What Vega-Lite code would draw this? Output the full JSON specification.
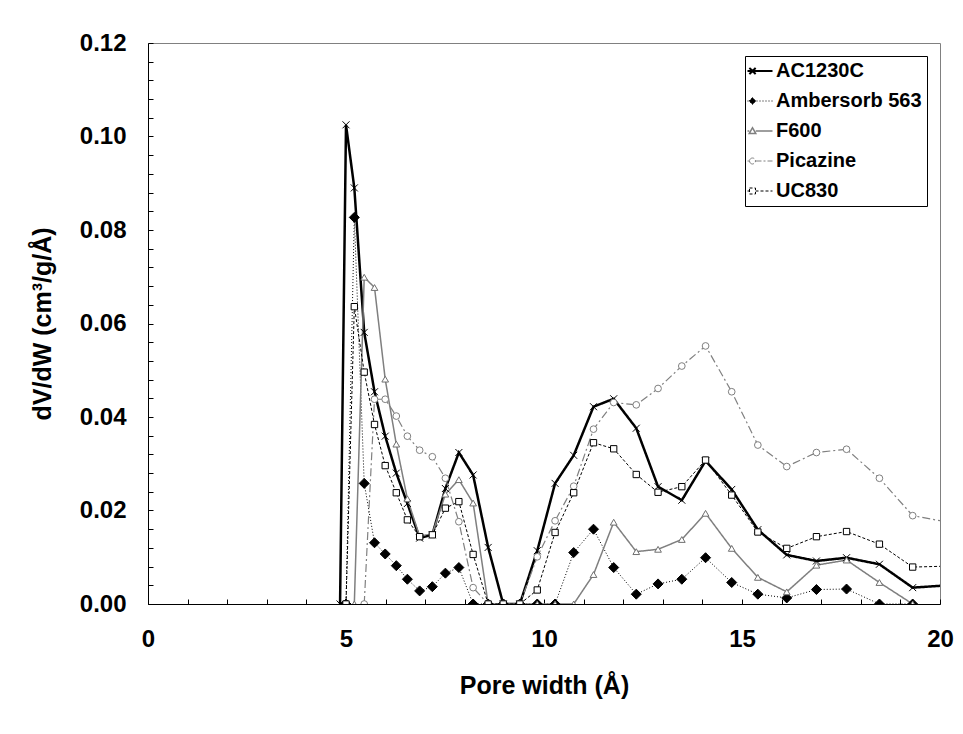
{
  "$schema": "https://vega.github.io/schema/vega-lite/v6.json",
  "width": 792,
  "height": 561,
  "autosize": {"type": "none"},
  "padding": {"left": 148, "top": 43, "right": 23, "bottom": 130},
  "background": "white",
  "config": {
    "font": "Liberation Sans",
    "view": {"stroke": "#808080", "strokeWidth": 1},
    "axis": {
      "grid": false,
      "domainColor": "#000000",
      "domainWidth": 1,
      "tickColor": "#000000",
      "tickSize": -5,
      "labelColor": "#000000",
      "labelFont": "Liberation Sans",
      "labelFontSize": 24,
      "labelFontWeight": "bold",
      "labelOverlap": false,
      "labelFlush": false,
      "titleColor": "#000000",
      "titleFont": "Liberation Sans",
      "titleFontSize": 25,
      "titleFontWeight": "bold"
    }
  },
  "data": {
    "values": [
      {"series": "AC1230C", "w": 4.85, "v": 0},
      {"series": "AC1230C", "w": 5.0, "v": 0.1025},
      {"series": "AC1230C", "w": 5.21, "v": 0.089},
      {"series": "AC1230C", "w": 5.46, "v": 0.0581},
      {"series": "AC1230C", "w": 5.72, "v": 0.0454},
      {"series": "AC1230C", "w": 5.99, "v": 0.0359},
      {"series": "AC1230C", "w": 6.27, "v": 0.028},
      {"series": "AC1230C", "w": 6.55, "v": 0.0215},
      {"series": "AC1230C", "w": 6.86, "v": 0.0141},
      {"series": "AC1230C", "w": 7.18, "v": 0.0148},
      {"series": "AC1230C", "w": 7.51, "v": 0.0247},
      {"series": "AC1230C", "w": 7.85, "v": 0.0324},
      {"series": "AC1230C", "w": 8.21, "v": 0.0276},
      {"series": "AC1230C", "w": 8.59, "v": 0.0121},
      {"series": "AC1230C", "w": 8.97, "v": 0},
      {"series": "AC1230C", "w": 9.39, "v": 0},
      {"series": "AC1230C", "w": 9.83, "v": 0.0114},
      {"series": "AC1230C", "w": 10.28, "v": 0.0258},
      {"series": "AC1230C", "w": 10.75, "v": 0.0318},
      {"series": "AC1230C", "w": 11.25, "v": 0.0422},
      {"series": "AC1230C", "w": 11.76, "v": 0.0439},
      {"series": "AC1230C", "w": 12.33, "v": 0.0376},
      {"series": "AC1230C", "w": 12.88, "v": 0.0251},
      {"series": "AC1230C", "w": 13.48, "v": 0.0222},
      {"series": "AC1230C", "w": 14.08, "v": 0.0306},
      {"series": "AC1230C", "w": 14.74, "v": 0.0245},
      {"series": "AC1230C", "w": 15.4, "v": 0.0159},
      {"series": "AC1230C", "w": 16.13, "v": 0.0105},
      {"series": "AC1230C", "w": 16.88, "v": 0.0092},
      {"series": "AC1230C", "w": 17.64, "v": 0.0099},
      {"series": "AC1230C", "w": 18.47, "v": 0.0085},
      {"series": "AC1230C", "w": 19.31, "v": 0.0035},
      {"series": "AC1230C", "w": 20.2, "v": 0.004},

      {"series": "Ambersorb 563", "w": 5.0, "v": 0},
      {"series": "Ambersorb 563", "w": 5.21, "v": 0.0827},
      {"series": "Ambersorb 563", "w": 5.46, "v": 0.0258},
      {"series": "Ambersorb 563", "w": 5.72, "v": 0.0131},
      {"series": "Ambersorb 563", "w": 5.99, "v": 0.0107},
      {"series": "Ambersorb 563", "w": 6.27, "v": 0.0082},
      {"series": "Ambersorb 563", "w": 6.55, "v": 0.0053},
      {"series": "Ambersorb 563", "w": 6.86, "v": 0.0028},
      {"series": "Ambersorb 563", "w": 7.18, "v": 0.0037},
      {"series": "Ambersorb 563", "w": 7.51, "v": 0.0066},
      {"series": "Ambersorb 563", "w": 7.85, "v": 0.0078},
      {"series": "Ambersorb 563", "w": 8.21, "v": 0},
      {"series": "Ambersorb 563", "w": 8.59, "v": 0},
      {"series": "Ambersorb 563", "w": 8.97, "v": 0},
      {"series": "Ambersorb 563", "w": 9.39, "v": 0},
      {"series": "Ambersorb 563", "w": 9.83, "v": 0},
      {"series": "Ambersorb 563", "w": 10.28, "v": 0},
      {"series": "Ambersorb 563", "w": 10.75, "v": 0.011},
      {"series": "Ambersorb 563", "w": 11.25, "v": 0.016},
      {"series": "Ambersorb 563", "w": 11.76, "v": 0.0078},
      {"series": "Ambersorb 563", "w": 12.33, "v": 0.0021},
      {"series": "Ambersorb 563", "w": 12.88, "v": 0.0043},
      {"series": "Ambersorb 563", "w": 13.48, "v": 0.0053},
      {"series": "Ambersorb 563", "w": 14.08, "v": 0.0099},
      {"series": "Ambersorb 563", "w": 14.74, "v": 0.0046},
      {"series": "Ambersorb 563", "w": 15.4, "v": 0.0021},
      {"series": "Ambersorb 563", "w": 16.13, "v": 0.0013},
      {"series": "Ambersorb 563", "w": 16.88, "v": 0.0031},
      {"series": "Ambersorb 563", "w": 17.64, "v": 0.0032},
      {"series": "Ambersorb 563", "w": 18.47, "v": 0},
      {"series": "Ambersorb 563", "w": 19.31, "v": 0},

      {"series": "F600", "w": 5.21, "v": 0},
      {"series": "F600", "w": 5.46, "v": 0.0699},
      {"series": "F600", "w": 5.72, "v": 0.0677},
      {"series": "F600", "w": 5.99, "v": 0.0481},
      {"series": "F600", "w": 6.27, "v": 0.0342},
      {"series": "F600", "w": 6.55, "v": 0.0225},
      {"series": "F600", "w": 6.86, "v": 0.0145},
      {"series": "F600", "w": 7.18, "v": 0.015},
      {"series": "F600", "w": 7.51, "v": 0.0235},
      {"series": "F600", "w": 7.85, "v": 0.0266},
      {"series": "F600", "w": 8.21, "v": 0.0216},
      {"series": "F600", "w": 8.59, "v": 0},
      {"series": "F600", "w": 8.97, "v": 0},
      {"series": "F600", "w": 9.39, "v": 0},
      {"series": "F600", "w": 9.83, "v": 0},
      {"series": "F600", "w": 10.28, "v": 0},
      {"series": "F600", "w": 10.75, "v": 0},
      {"series": "F600", "w": 11.25, "v": 0.0063},
      {"series": "F600", "w": 11.76, "v": 0.0175},
      {"series": "F600", "w": 12.33, "v": 0.0112},
      {"series": "F600", "w": 12.88, "v": 0.0117},
      {"series": "F600", "w": 13.48, "v": 0.0138},
      {"series": "F600", "w": 14.08, "v": 0.0194},
      {"series": "F600", "w": 14.74, "v": 0.0119},
      {"series": "F600", "w": 15.4, "v": 0.0057},
      {"series": "F600", "w": 16.13, "v": 0.0026},
      {"series": "F600", "w": 16.88, "v": 0.0083},
      {"series": "F600", "w": 17.64, "v": 0.0094},
      {"series": "F600", "w": 18.47, "v": 0.0046},
      {"series": "F600", "w": 19.31, "v": 0},

      {"series": "Picazine", "w": 5.46, "v": 0},
      {"series": "Picazine", "w": 5.72, "v": 0.0438},
      {"series": "Picazine", "w": 5.99, "v": 0.0438},
      {"series": "Picazine", "w": 6.27, "v": 0.0402},
      {"series": "Picazine", "w": 6.55, "v": 0.0359},
      {"series": "Picazine", "w": 6.86, "v": 0.0329},
      {"series": "Picazine", "w": 7.18, "v": 0.0315},
      {"series": "Picazine", "w": 7.51, "v": 0.0269},
      {"series": "Picazine", "w": 7.85, "v": 0.0176},
      {"series": "Picazine", "w": 8.21, "v": 0.0035},
      {"series": "Picazine", "w": 8.59, "v": 0},
      {"series": "Picazine", "w": 8.97, "v": 0},
      {"series": "Picazine", "w": 9.39, "v": 0},
      {"series": "Picazine", "w": 9.83, "v": 0.0101},
      {"series": "Picazine", "w": 10.28, "v": 0.0178},
      {"series": "Picazine", "w": 10.75, "v": 0.0252},
      {"series": "Picazine", "w": 11.25, "v": 0.0374},
      {"series": "Picazine", "w": 11.76, "v": 0.0431},
      {"series": "Picazine", "w": 12.33, "v": 0.0426},
      {"series": "Picazine", "w": 12.88, "v": 0.0461},
      {"series": "Picazine", "w": 13.48, "v": 0.0509},
      {"series": "Picazine", "w": 14.08, "v": 0.0552},
      {"series": "Picazine", "w": 14.74, "v": 0.0454},
      {"series": "Picazine", "w": 15.4, "v": 0.034},
      {"series": "Picazine", "w": 16.13, "v": 0.0294},
      {"series": "Picazine", "w": 16.88, "v": 0.0324},
      {"series": "Picazine", "w": 17.64, "v": 0.0331},
      {"series": "Picazine", "w": 18.47, "v": 0.0269},
      {"series": "Picazine", "w": 19.31, "v": 0.0189},
      {"series": "Picazine", "w": 20.2, "v": 0.0175},

      {"series": "UC830", "w": 5.0, "v": 0},
      {"series": "UC830", "w": 5.21, "v": 0.0636},
      {"series": "UC830", "w": 5.46, "v": 0.0496},
      {"series": "UC830", "w": 5.72, "v": 0.0384},
      {"series": "UC830", "w": 5.99, "v": 0.0296},
      {"series": "UC830", "w": 6.27, "v": 0.0238},
      {"series": "UC830", "w": 6.55, "v": 0.018},
      {"series": "UC830", "w": 6.86, "v": 0.0144},
      {"series": "UC830", "w": 7.18, "v": 0.0148},
      {"series": "UC830", "w": 7.51, "v": 0.0205},
      {"series": "UC830", "w": 7.85, "v": 0.0219},
      {"series": "UC830", "w": 8.21, "v": 0.0106},
      {"series": "UC830", "w": 8.59, "v": 0},
      {"series": "UC830", "w": 8.97, "v": 0},
      {"series": "UC830", "w": 9.39, "v": 0},
      {"series": "UC830", "w": 9.83, "v": 0.003},
      {"series": "UC830", "w": 10.28, "v": 0.0153},
      {"series": "UC830", "w": 10.75, "v": 0.0238},
      {"series": "UC830", "w": 11.25, "v": 0.0345},
      {"series": "UC830", "w": 11.76, "v": 0.0332},
      {"series": "UC830", "w": 12.33, "v": 0.0277},
      {"series": "UC830", "w": 12.88, "v": 0.0239},
      {"series": "UC830", "w": 13.48, "v": 0.0251},
      {"series": "UC830", "w": 14.08, "v": 0.0308},
      {"series": "UC830", "w": 14.74, "v": 0.0233},
      {"series": "UC830", "w": 15.4, "v": 0.0154},
      {"series": "UC830", "w": 16.13, "v": 0.0119},
      {"series": "UC830", "w": 16.88, "v": 0.0144},
      {"series": "UC830", "w": 17.64, "v": 0.0155},
      {"series": "UC830", "w": 18.47, "v": 0.0128},
      {"series": "UC830", "w": 19.31, "v": 0.0079},
      {"series": "UC830", "w": 20.2, "v": 0.0081}
    ]
  },
  "encoding": {
    "x": {
      "field": "w",
      "type": "quantitative",
      "scale": {"domain": [0, 20], "nice": false, "zero": false},
      "axis": {
        "title": "Pore width (Å)",
        "values": [0,1,2,3,4,5,6,7,8,9,10,11,12,13,14,15,16,17,18,19,20],
        "format": "d",
        "labelExpr": "datum.value % 5 === 0 ? datum.label : ''",
        "labelPadding": 28,
        "titlePadding": 22
      }
    },
    "y": {
      "field": "v",
      "type": "quantitative",
      "scale": {"domain": [0, 0.12], "nice": false},
      "axis": {
        "title": "dV/dW (cm³/g/Å)",
        "values": [0,0.004,0.008,0.012,0.016,0.02,0.024,0.028,0.032,0.036,0.04,0.044,0.048,0.052,0.056,0.06,0.064,0.068,0.072,0.076,0.08,0.084,0.088,0.092,0.096,0.1,0.104,0.108,0.112,0.116,0.12],
        "labelExpr": "round(datum.value * 1000) % 20 === 0 ? format(datum.value, '.2f') : ''",
        "labelPadding": 27,
        "titlePadding": 24
      }
    }
  },
  "resolve": {"scale": {"stroke": "independent"}, "legend": {"stroke": "independent"}},
  "layer": [
    {
      "mark": {"type": "line", "clip": true},
      "encoding": {
        "stroke": {
          "field": "series",
          "type": "nominal",
          "scale": {
            "domain": ["AC1230C", "Ambersorb 563", "F600", "Picazine", "UC830"],
            "range": ["#000000", "#000000", "#7f7f7f", "#808080", "#000000"]
          },
          "legend": {
            "title": null,
            "orient": "top-right",
            "offset": 13,
            "padding": 5,
            "strokeColor": "#000000",
            "fillColor": "#ffffff",
            "labelFont": "Liberation Sans",
            "labelFontSize": 20,
            "labelFontWeight": "bold",
            "labelColor": "#000000",
            "labelLimit": 300,
            "labelOffset": 6,
            "symbolSize": 625,
            "rowPadding": 10,
            "symbolType": "M-1,0H1",
            "encode": {
              "symbols": {
                "update": {
                  "size": {"value": 625},
                  "shape": {"signal": "datum.value === 'AC1230C' ? 'M-1,0H1M-0.85,-0.25L-0.35,0.25M-0.85,0.25L-0.35,-0.25' : datum.value === 'Ambersorb 563' ? 'M-1,0H1M-0.6,-0.28L-0.32,0L-0.6,0.28L-0.88,0Z' : datum.value === 'F600' ? 'M-1,0H-0.86M-0.34,0H1M-0.6,-0.26L-0.34,0.2L-0.86,0.2Z' : datum.value === 'Picazine' ? 'M-1,0H-0.84M-0.36,0H1M-0.84,0A0.24,0.24 0 1,0 -0.36,0A0.24,0.24 0 1,0 -0.84,0Z' : 'M-1,0H-0.84M-0.36,0H1M-0.84,-0.24H-0.36V0.24H-0.84Z'"},
                  "fill": {"signal": "datum.value === 'Ambersorb 563' ? '#000000' : '#ffffff'"},
                  "strokeDash": {"signal": "datum.value === 'Ambersorb 563' ? [1,2] : datum.value === 'Picazine' ? [6,2,2,2] : datum.value === 'UC830' ? [3,2] : [1,0]"},
                  "strokeWidth": {"signal": "datum.value === 'AC1230C' ? 2 : datum.value === 'F600' ? 1.5 : 1"},
                  "opacity": {"value": 1}
                }
              }
            }
          }
        },
        "strokeDash": {
          "field": "series",
          "type": "nominal",
          "scale": {
            "domain": ["AC1230C", "Ambersorb 563", "F600", "Picazine", "UC830"],
            "range": [[1, 0], [1, 2], [1, 0], [8, 3, 2, 3], [3, 2]]
          },
          "legend": null
        },
        "strokeWidth": {
          "field": "series",
          "type": "nominal",
          "scale": {
            "type": "ordinal",
            "domain": ["AC1230C", "Ambersorb 563", "F600", "Picazine", "UC830"],
            "range": [2.5, 1, 1.5, 1.2, 1]
          },
          "legend": null
        }
      }
    },
    {
      "mark": {"type": "point", "clip": true, "filled": true, "strokeWidth": 1, "opacity": 1},
      "encoding": {
        "stroke": {
          "field": "series",
          "type": "nominal",
          "scale": {
            "domain": ["AC1230C", "Ambersorb 563", "F600", "Picazine", "UC830"],
            "range": ["#000000", "#000000", "#6f6f6f", "#7f7f7f", "#000000"]
          },
          "legend": null
        },
        "fill": {
          "field": "series",
          "type": "nominal",
          "scale": {
            "domain": ["AC1230C", "Ambersorb 563", "F600", "Picazine", "UC830"],
            "range": ["#ffffff", "#000000", "#ffffff", "#ffffff", "#ffffff"]
          },
          "legend": null
        },
        "shape": {
          "field": "series",
          "type": "nominal",
          "scale": {
            "domain": ["AC1230C", "Ambersorb 563", "F600", "Picazine", "UC830"],
            "range": ["M-1,-1L1,1M-1,1L1,-1", "diamond", "triangle-up", "circle", "square"]
          },
          "legend": null
        },
        "size": {
          "field": "series",
          "type": "nominal",
          "scale": {
            "type": "ordinal",
            "domain": ["AC1230C", "Ambersorb 563", "F600", "Picazine", "UC830"],
            "range": [49, 100, 45, 45, 40]
          },
          "legend": null
        }
      }
    }
  ]
}
